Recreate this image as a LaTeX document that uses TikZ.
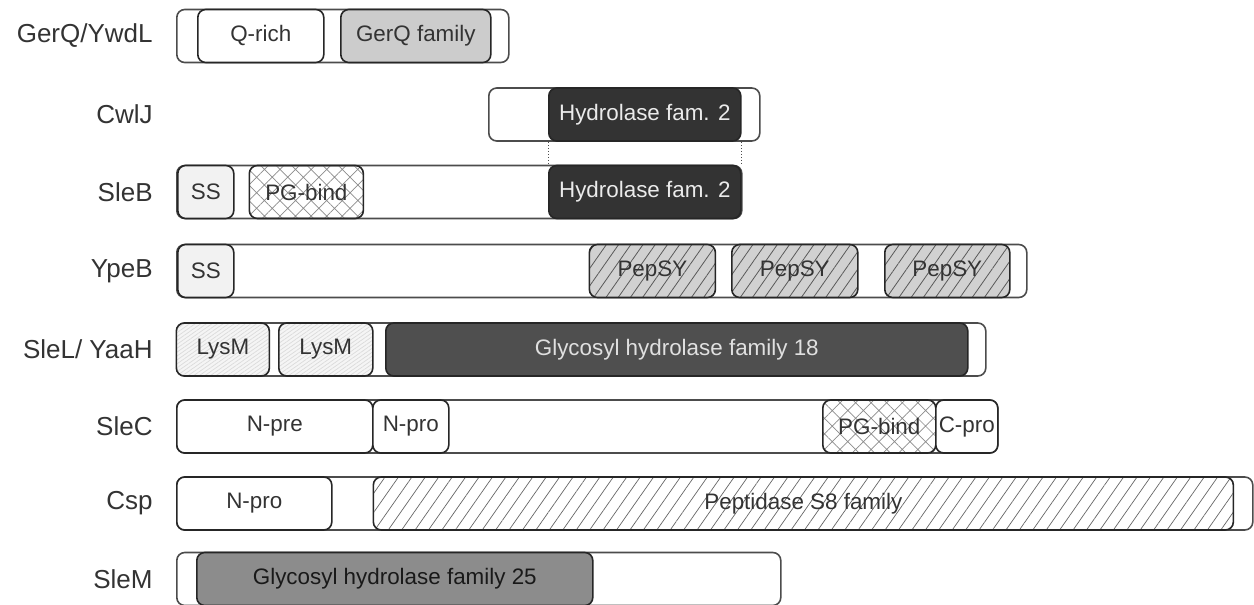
\documentclass[tikz,border=0pt]{standalone}
\usepackage{fontspec}
\setmainfont{Liberation Sans}
\usetikzlibrary{patterns.meta}
\begin{document}
\begin{tikzpicture}[x=0.5pt,y=-0.5pt,
  dom/.style={draw=black!85, line width=0.8pt, rounded corners=4pt, minimum height=26.5pt,
    inner sep=0pt, anchor=west, font=\fontsize{11.2}{13}\selectfont, text=black!80, fill=white},
  bar/.style={dom, draw=black!70},
  lab/.style={anchor=east, inner sep=0pt, font=\fontsize{13}{15}\selectfont, text=black!80},
  ssbox/.style={fill=black!5},
  gerqfam/.style={fill=black!20},
  hydro/.style={fill=black!80, text=black!8},
  gh18/.style={fill=black!69, text=black!12},
  gh25/.style={fill=black!45, text=black!90},
  pgbind/.style={fill=white, pattern={Hatch[angle=45,distance=5.5pt,line width=0.35pt]}, pattern color=black!45},
  pepsy/.style={preaction={fill=black!18}, pattern={Lines[angle=55,distance=5pt,line width=0.4pt]}, pattern color=black!65},
  lysm/.style={preaction={fill=black!4}, pattern={Lines[angle=35,distance=1.6pt,line width=0.35pt]}, pattern color=black!14},
  pept/.style={preaction={fill=white}, pattern={Lines[angle=55,distance=5.5pt,line width=0.35pt]}, pattern color=black!60},
  link/.style={densely dotted, draw=black!70, line width=0.5pt}
]
\useasboundingbox (0,0) rectangle (1254,605);

% labels
\node[lab] (l1) at (153,36) {GerQ/YwdL};
\node[lab] (l2) at (153,114.5) {CwlJ};
\node[lab] (l3) at (153,192) {SleB};
\node[lab] (l4) at (153,271) {YpeB};
\node[lab] (l5) at (153,349.5) {SleL/ YaaH};
\node[lab] (l6) at (153,426.5) {SleC};
\node[lab] (l7) at (153,503.5) {Csp};
\node[lab] (l8) at (153,579) {SleM};

% GerQ/YwdL
\node[bar, minimum width=166pt] (gq) at (176,36) {};
\node[dom, minimum width=63pt] (gqr) at (197,36) {Q-rich};
\node[dom, gerqfam, minimum width=75pt] (gqf) at (340,36) {GerQ family};

% CwlJ
\node[bar, minimum width=135.5pt] (cw) at (488,114.5) {};
\node[dom, hydro, minimum width=96pt] (cwh) at (548,114.5) {Hydrolase fam. 2};

% SleB
\node[bar, minimum width=282.5pt] (sb) at (176,192) {};
\node[dom, ssbox, minimum width=28pt] (sbs) at (177,192) {SS};
\node[dom, pgbind, minimum width=57pt] (sbp) at (249,192) {PG-bind};
\node[dom, hydro, minimum width=96pt] (sbh) at (548,192) {Hydrolase fam. 2};
\draw[link] (cwh.south west) -- (sbh.north west);
\draw[link] (cwh.south east) -- (sbh.north east);

% YpeB
\node[bar, minimum width=425pt] (yp) at (176,271) {};
\node[dom, ssbox, minimum width=28pt] (yps) at (177,271) {SS};
\node[dom, pepsy, minimum width=63pt] (yp1) at (589,271) {PepSY};
\node[dom, pepsy, minimum width=63pt] (yp2) at (731,271) {PepSY};
\node[dom, pepsy, minimum width=62.5pt] (yp3) at (884,271) {PepSY};

% SleL/YaaH
\node[bar, minimum width=404.5pt] (sl) at (176,349.5) {};
\node[dom, lysm, minimum width=46.5pt] (sl1) at (176,349.5) {LysM};
\node[dom, lysm, minimum width=47pt] (sl2) at (278,349.5) {LysM};
\node[dom, gh18, minimum width=291pt] (slg) at (385,349.5) {Glycosyl hydrolase family 18};

% SleC
\node[bar, minimum width=410.5pt] (sc) at (176,426.5) {};
\node[dom, minimum width=98pt] (scn) at (176,426.5) {N-pre};
\node[dom, minimum width=38pt] (scp) at (372,426.5) {N-pro};
\node[dom, pgbind, minimum width=56.5pt] (scb) at (822,426.5) {PG-bind};
\node[dom, minimum width=31pt] (scc) at (935,426.5) {C-pro};

% Csp
\node[bar, minimum width=538pt] (cs) at (176,503.5) {};
\node[dom, minimum width=77.5pt] (csn) at (176,503.5) {N-pro};
\node[dom, pept, minimum width=430pt] (csp) at (373,503.5) {Peptidase S8 family};

% SleM
\node[bar, minimum width=302pt] (sm) at (176,579) {};
\node[dom, gh25, minimum width=198pt] (smg) at (196,579) {Glycosyl hydrolase family 25};
\end{tikzpicture}
\end{document}
